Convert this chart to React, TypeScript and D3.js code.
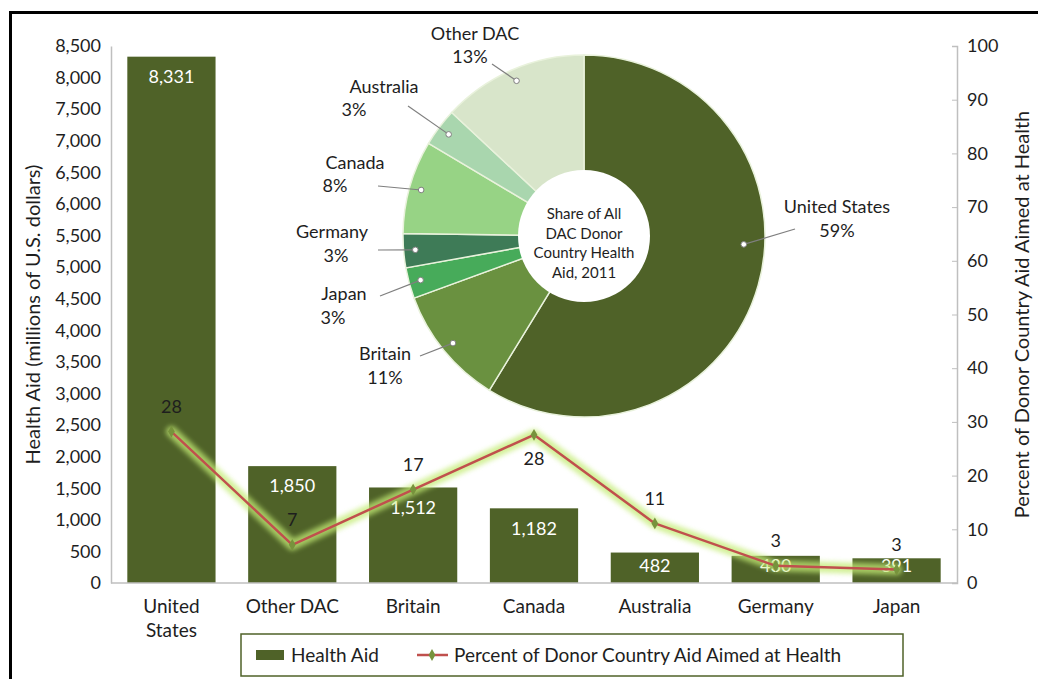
import React, { useEffect, useRef } from "react";
import * as d3 from "d3";

const width = 1038;
const height = 679;
const margin = { top: 46, right: 81, bottom: 96, left: 111 };

// bar + line data (left axis: millions USD, right axis: percent)
const categories = ["United States", "Other DAC", "Britain", "Canada", "Australia", "Germany", "Japan"];
const healthAid = [8331, 1850, 1512, 1182, 482, 430, 391];
const pctAimedAtHealth = [28.2, 7.1, 17.4, 27.6, 11.1, 3.2, 2.5];
const leftTicks = d3.range(0, 8501, 500);
const rightTicks = d3.range(0, 101, 10);

// donut order (clockwise from 12 o'clock)
const pieOrder = ["United States", "Britain", "Japan", "Germany", "Canada", "Australia", "Other DAC"];
const pieCenterText = ["Share of All", "DAC Donor", "Country Health", "Aid, 2011"];

const pieColors: Record<string, string> = {
  "United States": "#4f6228",
  Britain: "#6a9140",
  Japan: "#47ab5a",
  Germany: "#3e7b57",
  Canada: "#97d385",
  Australia: "#a9d6ae",
  "Other DAC": "#d8e5ca",
};

// label placement relative to pie centre (manual, like the original)
const pieLabelLayout: Record<string, any> = {
  "United States": { name: [253, -29], pct: [253, -5], end: [211, -7], angle: 93 },
  Britain: { name: [-199, 118], pct: [-199, 142], end: [-164, 120] },
  Japan: { name: [-240, 58], pct: [-251, 82], end: [-204, 60] },
  Germany: { name: [-252, -4], pct: [-248, 20], end: [-206, 14] },
  Canada: { name: [-229, -73], pct: [-249, -50], end: [-206, -50] },
  Australia: { name: [-200, -149], pct: [-230, -126], end: [-176, -130] },
  "Other DAC": { name: [-109, -202], pct: [-114, -179], end: [-92, -172] },
};

const font = "Lato, 'Open Sans', sans-serif";
const textColor = "#1e1e1e";

export default function App() {
  const leftAxisRef = useRef<SVGGElement>(null);
  const rightAxisRef = useRef<SVGGElement>(null);

  const x = d3
    .scaleBand()
    .domain(categories)
    .range([margin.left, width - margin.right])
    .paddingInner(0.27)
    .paddingOuter(0.135);
  const y = d3.scaleLinear().domain([0, 8500]).range([height - margin.bottom, margin.top]);
  const yR = d3.scaleLinear().domain([0, 100]).range([height - margin.bottom, margin.top]);

  const total = d3.sum(healthAid);
  const pieData = pieOrder.map((name) => ({ name, value: healthAid[categories.indexOf(name)] }));
  const arcs = d3
    .pie<any>()
    .sort(null)
    .value((d) => d.value)(pieData);
  const cx = 584;
  const cy = 236;
  const R = 181;
  const arcGen = d3.arc<any>().innerRadius(0).outerRadius(R);

  const lineGen = d3
    .line<number>()
    .x((d, i) => x(categories[i])! + x.bandwidth() / 2)
    .y((d) => yR(d))
    .curve(d3.curveLinear);

  useEffect(() => {
    const la = d3
      .select(leftAxisRef.current!)
      .call(
        d3
          .axisLeft(y)
          .tickValues(leftTicks)
          .tickSize(0)
          .tickPadding(10)
          .tickFormat(d3.format(","))
      );
    la.select(".domain").attr("stroke", "#bfbfbf").attr("stroke-width", 1.5);
    la.selectAll("text").attr("font-family", font).attr("font-size", 18).attr("fill", textColor);

    const ra = d3
      .select(rightAxisRef.current!)
      .call(d3.axisRight(yR).tickValues(rightTicks).tickSize(-5).tickPadding(10));
    ra.select(".domain").attr("stroke", "#bfbfbf").attr("stroke-width", 1.5);
    ra.selectAll(".tick line").attr("stroke", "#bfbfbf");
    ra.selectAll("text").attr("font-family", font).attr("font-size", 18).attr("fill", textColor);
  }, []);

  const baseY = y(0);

  return (
    <svg
      width={width}
      height={height}
      style={{ position: "absolute", left: 0, top: 0, background: "#fff" }}
    >
      <defs>
        <filter id="glow" x="-10%" y="-10%" width="120%" height="120%">
          <feGaussianBlur stdDeviation="2.5" />
        </filter>
      </defs>
      <rect width={width} height={height} fill="#fff" />
      {/* frame */}
      <path d={`M10.5,${height} V12.5 H${width}`} fill="none" stroke="#000" strokeWidth={3} />

      {/* bars */}
      {healthAid.map((v, i) => (
        <rect
          key={categories[i]}
          x={x(categories[i])}
          y={y(v)}
          width={x.bandwidth()}
          height={baseY - y(v)}
          fill="#4f6228"
        />
      ))}
      {healthAid.map((v, i) => (
        <text
          key={"bv" + i}
          x={x(categories[i])! + x.bandwidth() / 2}
          y={Math.min(y(v) + 20, 566)}
          dy="0.35em"
          textAnchor="middle"
          fontFamily={font}
          fontSize={18}
          fill="#fff"
        >
          {d3.format(",")(v)}
        </text>
      ))}

      {/* x axis line */}
      <line x1={margin.left} x2={width - margin.right} y1={baseY} y2={baseY} stroke="#bfbfbf" strokeWidth={1.5} />
      <g ref={leftAxisRef} transform={`translate(${margin.left},0)`} />
      <g ref={rightAxisRef} transform={`translate(${width - margin.right},0)`} />

      {/* category labels */}
      {categories.map((c) => {
        const words = c === "United States" ? ["United", "States"] : [c];
        return (
          <text
            key={c}
            x={x(c)! + x.bandwidth() / 2}
            y={606}
            textAnchor="middle"
            fontFamily={font}
            fontSize={19}
            fill={textColor}
          >
            {words.map((w, j) => (
              <tspan key={w} x={x(c)! + x.bandwidth() / 2} dy={j === 0 ? "0.35em" : 24}>
                {w}
              </tspan>
            ))}
          </text>
        );
      })}

      {/* axis titles */}
      <text
        transform={`translate(33,${(margin.top + baseY) / 2}) rotate(-90)`}
        textAnchor="middle"
        dy="0.35em"
        fontFamily={font}
        fontSize={20}
        fill={textColor}
      >
        Health Aid (millions of U.S. dollars)
      </text>
      <text
        transform={`translate(1022,${(margin.top + baseY) / 2}) rotate(-90)`}
        textAnchor="middle"
        dy="0.35em"
        fontFamily={font}
        fontSize={20}
        fill={textColor}
      >
        Percent of Donor Country Aid Aimed at Health
      </text>

      {/* donut */}
      <g transform={`translate(${cx},${cy})`}>
        {arcs.map((a) => (
          <path key={a.data.name} d={arcGen(a)!} fill={pieColors[a.data.name]} stroke="#e9f2dc" strokeWidth={1.5} />
        ))}
        <circle r={66} fill="#fff" />
        {pieCenterText.map((t, i) => (
          <text
            key={t}
            y={-22 + i * 19.5}
            dy="0.35em"
            textAnchor="middle"
            fontFamily={font}
            fontSize={15}
            fill={textColor}
          >
            {t}
          </text>
        ))}
        {arcs.map((a) => {
          const lay = pieLabelLayout[a.data.name];
          const mid = lay.angle !== undefined ? (lay.angle * Math.PI) / 180 : (a.startAngle + a.endAngle) / 2;
          const r = lay.angle !== undefined ? 160 : R * 0.935;
          const dx = r * Math.sin(mid);
          const dy = -r * Math.cos(mid);
          const pct = Math.round((a.data.value / total) * 100) + "%";
          return (
            <g key={"lab" + a.data.name}>
              <line x1={lay.end[0]} y1={lay.end[1]} x2={dx} y2={dy} stroke="#7f7f7f" strokeWidth={1.2} />
              <circle cx={dx} cy={dy} r={2.8} fill="#fff" stroke="#7f7f7f" strokeWidth={1} />
              <text x={lay.name[0]} y={lay.name[1]} dy="0.35em" textAnchor="middle" fontFamily={font} fontSize={18} fill={textColor}>
                {a.data.name}
              </text>
              <text x={lay.pct[0]} y={lay.pct[1]} dy="0.35em" textAnchor="middle" fontFamily={font} fontSize={18} fill={textColor}>
                {pct}
              </text>
            </g>
          );
        })}
      </g>

      {/* percent line with glow */}
      <path
        d={lineGen(pctAimedAtHealth)!}
        fill="none"
        stroke="#c4ec76"
        strokeWidth={11}
        strokeLinejoin="round"
        strokeLinecap="round"
        opacity={0.75}
        filter="url(#glow)"
      />
      <path d={lineGen(pctAimedAtHealth)!} fill="none" stroke="#c0504d" strokeWidth={2.5} strokeLinejoin="round" />
      {pctAimedAtHealth.map((v, i) => (
        <path
          key={"m" + i}
          transform={`translate(${x(categories[i])! + x.bandwidth() / 2},${yR(v)})`}
          d={d3.symbol(d3.symbolDiamond, 40)()!}
          fill="#77933c"
        />
      ))}
      {pctAimedAtHealth.map((v, i) => (
        <text
          key={"pl" + i}
          x={x(categories[i])! + x.bandwidth() / 2}
          y={categories[i] === "Canada" ? yR(v) + 24 : yR(v) - 25}
          dy="0.35em"
          textAnchor="middle"
          fontFamily={font}
          fontSize={18}
          fill={textColor}
        >
          {Math.round(v)}
        </text>
      ))}

      {/* legend */}
      <g>
        <rect x={241} y={634} width={662} height={42} fill="#fff" stroke="#4f6228" strokeWidth={1.5} />
        <rect x={256} y={650} width={28} height={10} fill="#4f6228" />
        <text x={291} y={655} dy="0.35em" fontFamily={font} fontSize={19} fill={textColor}>
          Health Aid
        </text>
        <line x1={417} x2={448} y1={655} y2={655} stroke="#c0504d" strokeWidth={2.5} />
        <path transform="translate(432,655)" d={d3.symbol(d3.symbolDiamond, 40)()!} fill="#77933c" />
        <text x={454} y={655} dy="0.35em" fontFamily={font} fontSize={19} fill={textColor}>
          Percent of Donor Country Aid Aimed at Health
        </text>
      </g>
    </svg>
  );
}
